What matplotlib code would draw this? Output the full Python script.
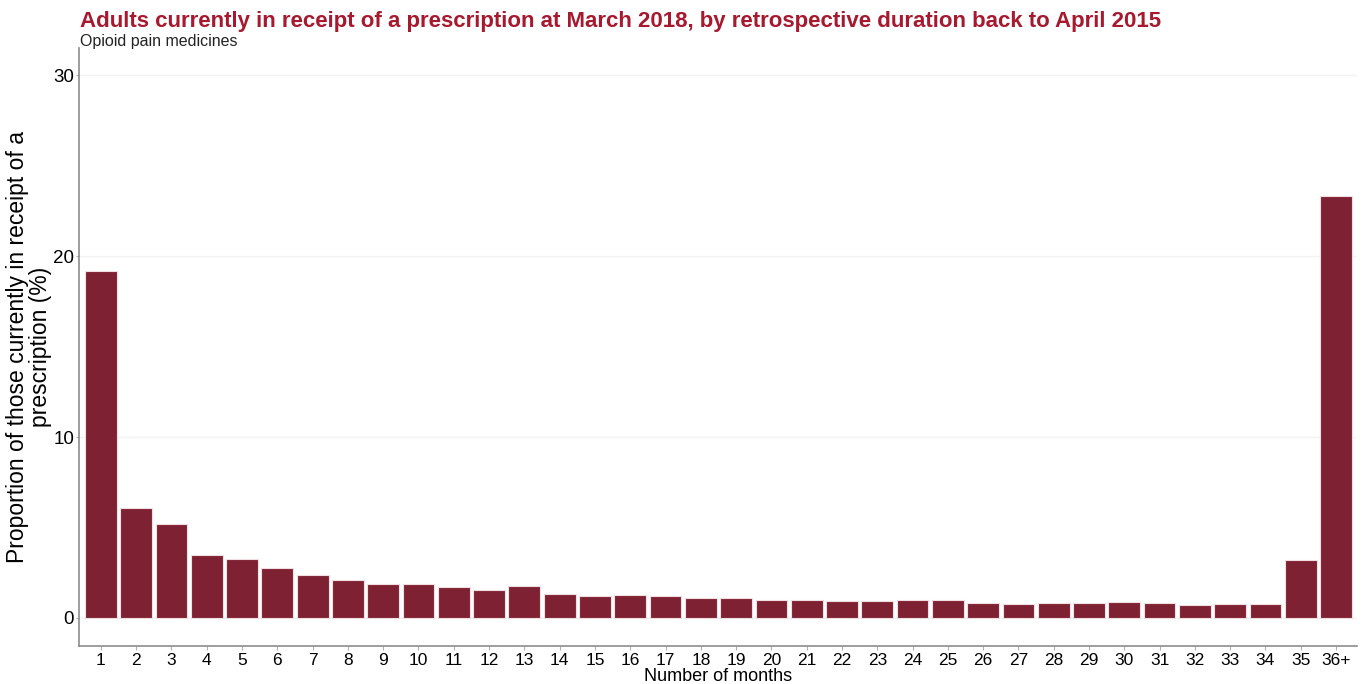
import numpy as np
import matplotlib.pyplot as plt

# months back to April 2015
months = [str(i) for i in range(1, 36)] + ['36+']
share = [19.2, 6.1, 5.2, 3.5, 3.25, 2.75, 2.4, 2.1, 1.85, 1.9,
         1.7, 1.55, 1.75, 1.3, 1.2, 1.25, 1.2, 1.1, 1.1, 1.0,
         1.0, 0.95, 0.92, 1.0, 1.0, 0.82, 0.78, 0.83, 0.83, 0.88,
         0.83, 0.73, 0.77, 0.77, 3.2, 23.3]

plt.rcParams['font.family'] = ['Liberation Sans', 'DejaVu Sans']

fig = plt.figure(figsize=(13.62, 6.84), dpi=100)
ax = fig.add_axes([0.058, 0.0556, 0.9385, 0.874])

x = np.arange(1, len(months) + 1)
ax.bar(x, share, width=0.9, color='#7e2233', edgecolor='#f2dde0', linewidth=0.8, zorder=3)

ax.set_xlim(0.38, 36.6)
ax.set_ylim(-1.55, 31.5)
ax.set_xticks(x)
ax.set_xticklabels(months)
ax.set_yticks([0, 10, 20, 30])
ax.yaxis.grid(True, color='#f3f3f3', linewidth=1, zorder=0)
ax.set_axisbelow(True)

for s in ['top', 'right']:
    ax.spines[s].set_visible(False)
for s in ['left', 'bottom']:
    ax.spines[s].set_color('#8c8c8c')
    ax.spines[s].set_linewidth(1.2)

ax.tick_params(axis='x', labelsize=12.5, length=3, color='#b0b0b0', pad=2)
ax.tick_params(axis='y', labelsize=13.5, length=2.5, color='#b0b0b0', pad=1)

ax.set_xlabel('Number of months', fontsize=13, labelpad=0)
ax.set_ylabel('Proportion of those currently in receipt of a\nprescription (%)', fontsize=16.5, linespacing=0.95)
ax.yaxis.set_label_coords(-0.0215, 0.5)

fig.text(0.0587, 0.969, 'Adults currently in receipt of a prescription at March 2018, by retrospective duration back to April 2015',
         fontsize=16, fontweight='bold', color='#a6192e', va='center')
fig.text(0.0587, 0.939, 'Opioid pain medicines', fontsize=11.5, color='#222222', va='center')

fig.savefig('out.png', dpi=100)
